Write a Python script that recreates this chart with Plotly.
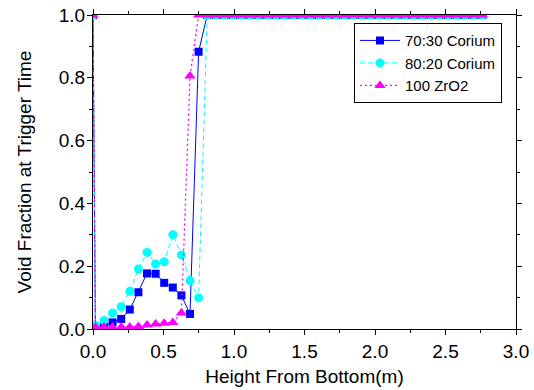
import plotly.graph_objects as go

# Height from bottom (m)
heights = [0.0, 0.017, 0.078, 0.139, 0.200, 0.261, 0.322, 0.383, 0.444, 0.505,
           0.566, 0.627, 0.688, 0.749, 0.810, 0.871, 0.932, 0.993, 1.054, 1.115,
           1.176, 1.237, 1.298, 1.359, 1.420, 1.481, 1.542, 1.603, 1.664, 1.725,
           1.786, 1.847, 1.908, 1.969, 2.030, 2.091, 2.152, 2.213, 2.274, 2.335,
           2.396, 2.457, 2.518, 2.579, 2.640, 2.701, 2.762]

corium_70_30 = [1.0, 0.005, 0.011, 0.021, 0.032, 0.062, 0.117, 0.177, 0.176, 0.147,
                0.132, 0.107, 0.048, 0.883] + [1.0] * 33
corium_80_20 = [1.0, 0.012, 0.027, 0.051, 0.071, 0.120, 0.191, 0.244, 0.207, 0.214,
                0.300, 0.236, 0.154, 0.099] + [1.0] * 33
zro2_100 = [1.0, 0.006, 0.006, 0.006, 0.006, 0.006, 0.008, 0.013, 0.016, 0.018,
            0.021, 0.051, 0.806] + [1.0] * 34

series_names = ["70:30 Corium", "80:20 Corium", "100 ZrO2"]

FONT = "Liberation Sans, Arial, sans-serif"

fig = go.Figure()
fig.add_trace(go.Scatter(
    x=heights, y=corium_70_30, name=series_names[0], mode="lines+markers",
    line=dict(color="#0000ff", width=1),
    marker=dict(symbol="square", size=8, color="#0000ff"),
))
fig.add_trace(go.Scatter(
    x=heights, y=corium_80_20, name=series_names[1], mode="lines+markers",
    line=dict(color="#00ffff", width=1, dash="5px,3px"),
    marker=dict(symbol="circle", size=9, color="#00ffff"),
))
fig.add_trace(go.Scatter(
    x=heights, y=zro2_100, name=series_names[2], mode="lines+markers",
    line=dict(color="#ff00ff", width=1.3, dash="2px,3px"),
    marker=dict(symbol="triangle-up", size=10, color="#ff00ff"),
))

axis_common = dict(
    showline=True, linecolor="black", linewidth=1, mirror="allticks",
    ticks="outside", ticklen=5, tickwidth=1, tickcolor="black",
    showgrid=False, zeroline=False, automargin=False,
    tickfont=dict(family=FONT, size=19, color="black"),
    title_font=dict(family=FONT, size=19, color="black"),
)

fig.update_xaxes(
    range=[0, 3], dtick=0.5, tick0=0, tickformat=".1f",
    minor=dict(dtick=0.25, ticks="outside", ticklen=3, tickcolor="black"),
    title_text="Height From Bottom(m)", title_standoff=8,
    **axis_common,
)
fig.update_yaxes(
    range=[0, 1], dtick=0.2, tick0=0, tickformat=".1f",
    minor=dict(dtick=0.1, ticks="outside", ticklen=3, tickcolor="black"),
    title_text="Void Fraction at Trigger Time", title_standoff=22,
    ticklabelstandoff=-2,
    **axis_common,
)

fig.update_layout(
    width=534, height=390,
    margin=dict(l=93, r=18, t=15, b=61, autoexpand=False),
    plot_bgcolor="white", paper_bgcolor="white",
    font=dict(family=FONT, color="black"),
    legend=dict(
        x=0.617, y=0.974, xanchor="left", yanchor="top",
        bgcolor="white", bordercolor="black", borderwidth=1,
        font=dict(size=15, family=FONT),
        tracegroupgap=0, itemwidth=40,
        entrywidth=150, entrywidthmode="pixels",
    ),
    showlegend=True,
)

fig.write_html("out.html", config={"displayModeBar": False},
               post_script="document.body.style.margin='0';")
